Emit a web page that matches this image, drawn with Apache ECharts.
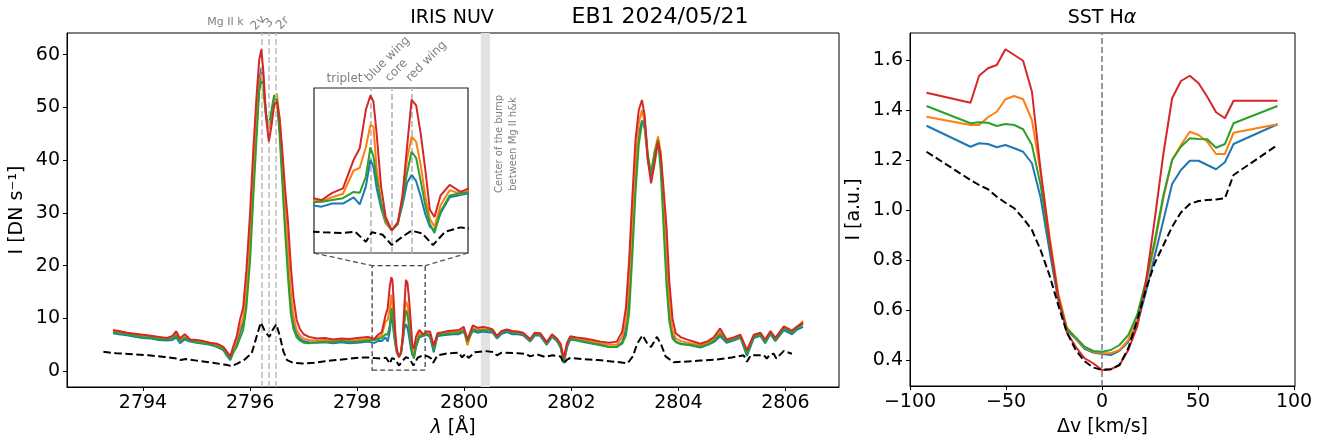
<!DOCTYPE html>
<html>
<head>
<meta charset="utf-8">
<script src="https://cdn.jsdelivr.net/npm/echarts@6/dist/echarts.min.js"></script>
<style>
html, body { margin: 0; padding: 0; background: #fff; }
#chart { width: 1332px; height: 445px; }
</style>
</head>
<body>
<div id="chart"></div>
<script>
// IRIS NUV, Mg II h&k window
const irisWave = [
  2793.44, 2793.55, 2793.70, 2793.85, 2794.00, 2794.15, 2794.30, 2794.45, 2794.55, 2794.62,
  2794.69, 2794.78, 2794.88, 2795.00, 2795.13, 2795.25, 2795.38, 2795.50, 2795.56, 2795.63,
  2795.69, 2795.75, 2795.81, 2795.87, 2795.93, 2796.00, 2796.06, 2796.12, 2796.17, 2796.21,
  2796.25, 2796.30, 2796.35, 2796.40, 2796.45, 2796.50, 2796.55, 2796.60, 2796.65, 2796.71,
  2796.76, 2796.81, 2796.87, 2796.93, 2797.00, 2797.10, 2797.25, 2797.40, 2797.55, 2797.70,
  2797.85, 2798.00, 2798.10, 2798.20, 2798.32, 2798.39, 2798.46, 2798.53, 2798.57, 2798.61,
  2798.64, 2798.66, 2798.68, 2798.71, 2798.74, 2798.78, 2798.82, 2798.85, 2798.88, 2798.91,
  2798.94, 2798.97, 2799.00, 2799.03, 2799.06, 2799.10, 2799.16, 2799.23, 2799.30, 2799.36,
  2799.43, 2799.50, 2799.60, 2799.70, 2799.80, 2799.90, 2799.99, 2800.06, 2800.16, 2800.25,
  2800.35, 2800.45, 2800.53, 2800.61, 2800.70, 2800.80, 2800.90, 2801.00, 2801.10, 2801.23,
  2801.32, 2801.42, 2801.54, 2801.64, 2801.73, 2801.80, 2801.86, 2801.92, 2801.98, 2802.10,
  2802.25, 2802.40, 2802.55, 2802.70, 2802.85, 2802.95, 2803.02, 2803.08, 2803.14, 2803.20,
  2803.26, 2803.32, 2803.37, 2803.43, 2803.49, 2803.55, 2803.62, 2803.67, 2803.72, 2803.78,
  2803.83, 2803.89, 2803.95, 2804.05, 2804.22, 2804.41, 2804.55, 2804.66, 2804.78, 2804.90,
  2805.03, 2805.16, 2805.28, 2805.41, 2805.53, 2805.62, 2805.72, 2805.81, 2805.97, 2806.12,
  2806.22, 2806.33
];
const irisBlue = [
  7.2, 7.0, 6.8, 6.5, 6.3, 6.2, 5.9, 5.8, 5.9, 6.4,
  5.3, 6.0, 5.6, 5.4, 5.2, 5.0, 4.6, 4.0, 3.0, 2.1,
  3.7, 5.4, 7.3, 9.0, 14.0, 24.0, 36.0, 47.0, 55.0, 57.5,
  54.0, 48.5, 46.0, 48.0, 51.5, 51.5, 46.0, 38.0, 29.0, 20.0,
  13.0, 9.0, 7.0, 6.2, 5.7, 5.5, 5.4, 5.5, 5.3, 5.5,
  5.3, 5.4, 5.5, 5.6, 5.35, 5.7, 5.7, 6.4, 5.6, 7.6,
  10.6, 9.8, 7.5, 5.2, 3.5, 2.7, 3.6, 5.5, 8.0, 8.9,
  8.2, 6.5, 4.5, 3.1, 2.7, 4.6, 6.4, 6.65, 6.9, 6.5,
  3.6, 6.6, 6.8, 6.9, 7.0, 7.0, 7.5, 5.8, 7.6, 7.3,
  7.5, 7.4, 7.3, 6.2, 7.1, 7.4, 7.0, 7.0, 6.8, 5.6,
  6.8, 6.7, 5.0, 6.5, 5.7, 4.5, 1.5, 4.5, 6.0, 5.8,
  5.5, 5.2, 4.9, 4.6, 4.6, 5.5, 8.0, 14.0, 25.0, 37.0,
  45.0, 47.5, 46.0, 40.0, 37.0, 40.5, 43.5, 40.0, 31.0, 19.0,
  11.0, 6.8, 5.6, 5.2, 4.9, 4.5, 5.0, 5.5, 6.6, 5.4,
  5.8, 6.3, 2.9, 6.3, 6.7, 5.3, 7.0, 5.7, 7.8, 7.0,
  7.9, 8.4
];
const irisOrange = [
  7.6, 7.4, 7.2, 6.9, 6.8, 6.6, 6.3, 6.2, 6.4, 7.1,
  5.8, 6.5, 5.9, 5.7, 5.5, 5.3, 4.9, 4.3, 3.4, 2.5,
  4.2, 6.0, 8.1, 10.0, 15.5, 25.0, 37.0, 47.0, 54.0, 56.5,
  53.0, 48.0, 46.0, 48.5, 52.0, 52.6, 48.0, 41.0, 32.0, 23.0,
  15.0, 10.5, 7.8, 6.8, 6.2, 5.9, 5.8, 5.9, 5.7, 5.9,
  5.8, 5.9, 6.0, 6.1, 6.0, 6.4, 6.8, 9.4, 9.7, 12.0,
  14.5, 14.3, 9.8, 5.8, 3.6, 2.7, 3.4, 6.5, 10.6, 13.2,
  12.6, 10.0, 6.5, 4.0, 3.1, 5.5, 7.2, 6.8, 7.2, 7.0,
  4.4, 7.0, 7.3, 7.4, 7.5, 7.6, 8.0, 4.9, 8.2, 7.8,
  8.0, 7.9, 7.7, 6.5, 7.5, 7.7, 7.4, 7.3, 7.1, 5.9,
  7.1, 7.0, 5.3, 6.8, 6.0, 4.8, 2.0, 5.0, 6.4, 6.1,
  5.9, 5.6, 5.3, 5.0, 5.0, 6.5, 9.5, 17.0, 28.0, 40.0,
  47.0, 49.5, 47.0, 40.0, 37.5, 41.5, 44.5, 41.5, 33.0, 22.0,
  13.0, 7.8, 6.2, 5.7, 5.3, 4.9, 5.4, 6.0, 7.5, 5.8,
  6.2, 6.7, 3.7, 6.8, 7.2, 5.6, 7.5, 6.1, 8.3, 7.6,
  8.4, 9.5
];
const irisGreen = [
  7.4, 7.2, 7.0, 6.7, 6.5, 6.4, 6.1, 6.0, 6.2, 6.8,
  5.6, 6.3, 5.7, 5.5, 5.3, 5.1, 4.7, 4.1, 3.2, 2.3,
  3.6, 4.6, 6.2, 7.8, 12.0, 21.0, 33.0, 44.0, 53.0, 55.5,
  53.5, 48.5, 46.5, 49.5, 52.3, 51.5, 45.0, 36.0, 27.0, 17.5,
  11.0, 8.0, 6.4, 5.8, 5.4, 5.3, 5.5, 5.6, 5.5, 5.7,
  5.6, 5.6, 5.7, 5.8, 5.9, 6.1, 6.3, 7.0, 6.9, 8.7,
  12.0, 11.0, 8.5, 5.8, 3.85, 2.7, 3.4, 6.0, 9.1, 11.5,
  10.8, 8.2, 5.5, 3.4, 2.4, 4.8, 6.6, 6.85, 7.0, 6.8,
  4.0, 6.8, 7.0, 7.1, 7.2, 7.3, 7.7, 5.6, 7.9, 7.6,
  7.8, 7.7, 7.6, 6.4, 7.4, 7.7, 7.3, 7.2, 7.0, 5.8,
  7.0, 6.9, 5.2, 6.7, 5.9, 4.6, 1.8, 4.8, 6.2, 5.9,
  5.6, 5.3, 5.0, 4.6, 4.6, 5.2, 6.8, 11.0, 22.0, 34.0,
  43.0, 47.0, 47.5, 41.0, 37.5, 41.0, 43.8, 38.0, 28.0, 16.0,
  9.5, 6.2, 5.5, 5.1, 5.0, 4.6, 5.1, 5.7, 7.0, 5.6,
  6.0, 6.5, 3.3, 6.5, 7.0, 5.5, 7.3, 5.9, 8.1, 7.3,
  8.2, 8.9
];
const irisRed = [
  7.8, 7.6, 7.3, 7.1, 6.9, 6.7, 6.5, 6.3, 6.7, 7.6,
  6.2, 7.0, 6.0, 5.9, 5.7, 5.4, 5.2, 4.6, 3.8, 2.8,
  4.8, 6.6, 9.7, 12.0, 19.0, 30.0, 42.0, 52.0, 59.0, 61.0,
  56.5, 48.0, 43.5, 46.5, 50.5, 51.1, 48.0, 42.0, 35.0, 28.0,
  20.0, 14.0, 9.7, 8.0, 7.0, 6.5, 6.2, 6.3, 6.0, 6.2,
  6.1, 6.3, 6.4, 6.5, 6.1, 6.9, 7.4, 10.6, 11.9, 16.2,
  17.8, 17.1, 13.7, 7.6, 4.2, 2.7, 3.6, 6.5, 12.0, 17.3,
  16.7, 13.5, 9.5, 5.0, 4.2, 6.6, 7.8, 7.0, 7.5, 7.5,
  4.8, 7.2, 7.4, 7.6, 7.7, 7.8, 8.4, 6.0, 8.7, 8.2,
  8.4, 8.2, 7.9, 6.7, 7.6, 7.9, 7.6, 7.5, 7.3, 6.1,
  7.3, 7.2, 5.5, 7.0, 6.2, 5.2, 2.5, 5.4, 6.6, 6.4,
  6.2, 5.9, 5.6, 5.4, 5.6, 7.5, 12.0, 21.0, 33.0, 44.0,
  49.5, 51.4, 48.5, 40.0, 35.6, 39.0, 43.5, 41.0, 35.0, 27.0,
  17.0, 10.0, 7.2, 6.4, 5.8, 5.2, 5.7, 6.4, 8.1, 6.0,
  6.4, 6.9, 4.0, 6.9, 7.3, 6.0, 7.6, 6.3, 8.5, 7.7,
  8.5, 9.2
];
// IRIS reference (quiet) profile, dashed black
const irisRefWave = [
  2793.26, 2793.50, 2793.80, 2794.10, 2794.40, 2794.63, 2794.70, 2794.80, 2795.00, 2795.30,
  2795.55, 2795.66, 2795.75, 2795.90, 2796.03, 2796.12, 2796.20, 2796.28, 2796.36, 2796.42,
  2796.49, 2796.56, 2796.62, 2796.69, 2796.80, 2796.99, 2797.20, 2797.40, 2797.60, 2797.80,
  2798.06, 2798.20, 2798.33, 2798.45, 2798.54, 2798.61, 2798.65, 2798.72, 2798.78, 2798.85,
  2798.91, 2798.98, 2799.05, 2799.13, 2799.23, 2799.32, 2799.38, 2799.42, 2799.50, 2799.70,
  2799.90, 2799.96, 2800.02, 2800.08, 2800.20, 2800.40, 2800.55, 2800.61, 2800.70, 2801.00,
  2801.15, 2801.23, 2801.35, 2801.51, 2801.65, 2801.80, 2801.86, 2801.92, 2801.98, 2802.20,
  2802.50, 2802.80, 2803.05, 2803.15, 2803.23, 2803.33, 2803.42, 2803.49, 2803.60, 2803.68,
  2803.76, 2803.91, 2804.10, 2804.40, 2804.72, 2805.00, 2805.22, 2805.28, 2805.35, 2805.60,
  2805.65, 2805.72, 2805.78, 2805.83, 2805.97, 2806.12
];
const irisRef = [
  3.66, 3.4, 3.2, 3.0, 2.7, 2.4, 2.1, 2.3, 2.0, 1.6,
  1.2, 0.95, 1.4, 2.2, 3.4, 6.5, 9.2, 7.5, 6.5, 7.8,
  8.9, 6.5, 3.8, 2.1, 1.6, 1.45, 1.6, 1.9, 2.1, 2.3,
  2.6, 2.6, 2.48, 2.4, 2.54, 1.42, 2.48, 2.2, 1.05, 2.0,
  2.65, 2.36, 1.05, 2.54, 3.03, 2.8, 2.4, 1.6, 3.0, 3.4,
  3.5, 2.6, 3.3, 2.5, 3.6, 3.8, 3.6, 3.0, 3.5, 3.4,
  3.3, 2.8, 3.2, 2.7, 3.0, 2.8, 1.45, 2.2, 2.5, 2.3,
  2.1, 1.8, 1.5, 2.8, 5.2, 6.8, 5.2, 4.6, 6.5, 5.0,
  2.8, 1.7, 1.8, 2.0, 2.2, 2.6, 3.0, 1.8, 3.0, 3.0,
  2.4, 3.2, 3.3, 2.4, 3.85, 3.3
];

const kLines = [2796.21, 2796.35, 2796.48];
const kLabels = ['2v', '3', '2r'];
const insetLines = [2798.644, 2798.779, 2798.914];
const insetLabels = ['blue wing', 'core', 'red wing'];
const bumpBand = [2800.31, 2800.48];
const zoomWave = [2798.28, 2799.27];
const zoomInt = [0.2, 20];

const irisXTicks = [2794, 2796, 2798, 2800, 2802, 2804, 2806];
const irisYTicks = [0, 10, 20, 30, 40, 50, 60];

// SST CRISP H-alpha, velocity in km/s
const sstVel = [
  -91.4, -68.5, -64.0, -59.4, -54.8, -50.3, -45.7, -41.1, -36.5, -32.0, -27.4,
  -22.8, -18.3, -13.7, -9.1, -4.6, 0, 4.6, 9.1, 13.7, 18.3, 22.8,
  27.4, 32.0, 36.5, 41.1, 45.7, 50.3, 54.8, 59.4, 64.0, 68.5, 91.4
];
const sstBlue = [
  1.337, 1.253, 1.267, 1.264, 1.251, 1.260, 1.247, 1.233, 1.187, 1.05, 0.84,
  0.64, 0.52, 0.485, 0.445, 0.43, 0.424, 0.42, 0.437, 0.473, 0.54, 0.67,
  0.815, 0.96, 1.104, 1.16, 1.197, 1.197, 1.18, 1.163, 1.191, 1.264, 1.343
];
const sstOrange = [
  1.373, 1.34, 1.34, 1.371, 1.393, 1.443, 1.456, 1.443, 1.36, 1.15, 0.90,
  0.667, 0.53, 0.487, 0.45, 0.433, 0.427, 0.427, 0.44, 0.48, 0.56, 0.70,
  0.86, 1.05, 1.20, 1.26, 1.313, 1.30, 1.273, 1.224, 1.224, 1.309, 1.343
];
const sstGreen = [
  1.416, 1.347, 1.351, 1.349, 1.336, 1.344, 1.34, 1.323, 1.26, 1.10, 0.87,
  0.653, 0.525, 0.49, 0.453, 0.436, 0.433, 0.44, 0.46, 0.50, 0.58, 0.715,
  0.875, 1.06, 1.20, 1.253, 1.287, 1.284, 1.283, 1.249, 1.264, 1.347, 1.416
];
const sstRed = [
  1.469, 1.429, 1.537, 1.567, 1.58, 1.643, 1.62, 1.597, 1.473, 1.16, 0.88,
  0.65, 0.51, 0.453, 0.407, 0.387, 0.36, 0.363, 0.38, 0.44, 0.533, 0.707,
  0.96, 1.227, 1.447, 1.516, 1.537, 1.507, 1.453, 1.391, 1.367, 1.437, 1.437
];
const sstRef = [
  1.233, 1.12, 1.10, 1.083, 1.053, 1.029, 1.007, 0.967, 0.92, 0.84, 0.74,
  0.62, 0.51, 0.44, 0.395, 0.37, 0.36, 0.363, 0.38, 0.447, 0.56, 0.68,
  0.787, 0.86, 0.933, 0.99, 1.024, 1.036, 1.04, 1.042, 1.047, 1.14, 1.26
];
const sstXTicks = [-100, -50, 0, 50, 100];
const sstYTicks = [0.4, 0.6, 0.8, 1.0, 1.2, 1.4, 1.6];

const colors = ['#1f77b4', '#ff7f0e', '#2ca02c', '#d62728'];
const FONT = 'DejaVu Sans';
const GREY = '#808080';

function pairs(xs, ys) {
    return xs.map((x, i) => [x, ys[i]]);
}

function axisX(grid, min, max, ticks, name, fmt) {
    return {
        type: 'value', gridIndex: grid, min: min, max: max,
        name: name, nameLocation: 'middle', nameGap: 32,
        nameTextStyle: {fontSize: 19, fontFamily: FONT, color: '#000',
            rich: {i: {fontSize: 19, fontFamily: FONT, fontStyle: 'italic'}}},
        axisLine: {show: true, onZero: false, lineStyle: {color: '#000', width: 1}},
        axisTick: {show: true, length: 4, customValues: ticks, lineStyle: {color: '#000'}},
        axisLabel: {customValues: ticks, fontSize: 19, fontFamily: FONT, color: '#000', margin: 7,
            formatter: fmt},
        splitLine: {show: false}
    };
}

function axisY(grid, min, max, ticks, name, gap, fmt) {
    return {
        type: 'value', gridIndex: grid, min: min, max: max,
        name: name, nameLocation: 'middle', nameRotate: 90, nameGap: gap,
        nameMoveOverlap: false,
        nameTextStyle: {fontSize: 19, fontFamily: FONT, color: '#000'},
        axisLine: {show: true, onZero: false, lineStyle: {color: '#000', width: 1}},
        axisTick: {show: true, length: 4, customValues: ticks, lineStyle: {color: '#000'}},
        axisLabel: {customValues: ticks, fontSize: 19, fontFamily: FONT, color: '#000', margin: 7,
            formatter: fmt},
        splitLine: {show: false}
    };
}

function hidden(grid, min, max) {
    return {
        type: 'value', gridIndex: grid, min: min, max: max,
        axisLine: {show: false}, axisTick: {show: false},
        axisLabel: {show: false}, splitLine: {show: false}
    };
}

function line(idx, data, color, dashed, z) {
    return {
        type: 'line', xAxisIndex: idx, yAxisIndex: idx, data: data,
        showSymbol: false, symbol: 'none', z: z, silent: true, animation: false,
        lineStyle: {color: color, width: 2, type: dashed ? [7.5, 3.5] : 'solid'}
    };
}

const irisSets = [irisBlue, irisOrange, irisGreen, irisRed];
const sstSets = [sstBlue, sstOrange, sstGreen, sstRed];

const series = [];
// main IRIS panel
irisSets.forEach((ys, i) => series.push(line(0, pairs(irisWave, ys), colors[i], false, 2 + i)));
series.push(line(0, pairs(irisRefWave, irisRef), '#000', true, 6));
// band + zoom box + k lines
series[0].markArea = {
    silent: true, z: 1,
    itemStyle: {color: '#e2e2e2'},
    data: [[{xAxis: bumpBand[0]}, {xAxis: bumpBand[1]}]]
};
series[4].markArea = {
    silent: true, z: 1,
    itemStyle: {color: 'rgba(0,0,0,0)', borderColor: '#444', borderWidth: 1.3, borderType: [5, 3]},
    data: [[{xAxis: zoomWave[0], yAxis: zoomInt[0]}, {xAxis: zoomWave[1], yAxis: zoomInt[1]}]]
};
series[4].markLine = {
    silent: true, symbol: ['none', 'none'], animation: false,
    label: {show: false},
    lineStyle: {color: '#c0c0c0', width: 1.6, type: [6, 3]},
    data: kLines.map(v => ({xAxis: v}))
};
// SST panel
sstSets.forEach((ys, i) => series.push(line(1, pairs(sstVel, ys), colors[i], false, 2 + i)));
series.push(line(1, pairs(sstVel, sstRef), '#000', true, 6));
series[9].markLine = {
    silent: true, symbol: ['none', 'none'], animation: false,
    label: {show: false},
    lineStyle: {color: GREY, width: 1.6, type: [6, 3]},
    data: [{xAxis: 0}]
};
// inset (drawn above its white background)
irisSets.forEach((ys, i) => series.push(line(2, pairs(irisWave, ys), colors[i], false, 12 + i)));
series.push(line(2, pairs(irisRefWave, irisRef), '#000', true, 16));
series[14].markLine = {
    silent: true, symbol: ['none', 'none'], animation: false, z: 11,
    label: {show: false},
    lineStyle: {color: '#b4b4b4', width: 1.6, type: [6, 3]},
    data: insetLines.map(v => ({xAxis: v}))
};

const minus = v => (v < 0 ? '\u2212' + Math.abs(v) : '' + v);

const option = {
    backgroundColor: '#fff',
    animation: false,
    grid: [
        {left: 67, top: 33, width: 772, height: 354, show: true, borderColor: '#000', borderWidth: 1,
            backgroundColor: 'transparent'},
        {left: 910, top: 33, width: 385, height: 353, show: true, borderColor: '#000', borderWidth: 1,
            backgroundColor: 'transparent'},
        {left: 314, top: 88, width: 154, height: 165, show: true, borderColor: '#222', borderWidth: 1.2,
            backgroundColor: '#fff', z: 8}
    ],
    xAxis: [
        axisX(0, 2792.58, 2807.0, irisXTicks, '{i|λ} [Å]', v => '' + v),
        axisX(1, -100, 100.5, sstXTicks, 'Δv [km/s]', minus),
        hidden(2, 2798.27, 2799.28)
    ],
    yAxis: [
        axisY(0, -3.0, 64.1, irisYTicks, 'I [DN s\u207B\u00B9]', 40),
        axisY(1, 0.296, 1.708, sstYTicks, 'I [a.u.]', 46, v => v.toFixed(1)),
        hidden(2, 0.16, 18.64)
    ],
    series: series
};

const chart = echarts.init(document.getElementById('chart'), null, {renderer: 'canvas'});
chart.setOption(option);

// annotations placed from axis coordinates
const px = (g, x, y) => chart.convertToPixel({gridIndex: g}, [x, y]);
const graphics = [];
function text(x, y, str, size, color, opts) {
    graphics.push(Object.assign({
        type: 'text', x: x, y: y, z: 50, silent: true,
        style: Object.assign({text: str, fontSize: size, fontFamily: FONT, fill: color,
            align: 'center', verticalAlign: 'middle'}, (opts && opts.style) || {})
    }, (opts && opts.el) || {}));
}

text(452, 18, 'IRIS NUV', 19, '#000');
text(660, 17, 'EB1 2024/05/21', 22, '#000');
graphics.push({
    type: 'text', x: 1102, y: 18, z: 50, silent: true,
    style: {
        text: 'SST H{i|α}', fontSize: 19, fontFamily: FONT, fill: '#000', align: 'center', verticalAlign: 'middle',
        rich: {i: {fontSize: 19, fontFamily: FONT, fontStyle: 'italic', fill: '#000'}}
    }
});

// Mg II k labels
const kPx = kLines.map(v => px(0, v, 0)[0]);
text(kPx[0] - 36, 22, 'Mg II k', 11, GREY);
const kOffset = [-3, 0, 7];
kLabels.forEach((s, i) => {
    text(kPx[i] + kOffset[i], 23, s, 12, GREY, {el: {rotation: Math.PI / 4}});
});

// inset labels
const top2 = px(2, 2798.27, 18.64)[1];
text(px(2, 2798.47, 0)[0], top2 - 9, 'triplet', 12, GREY);
insetLabels.forEach((s, i) => {
    const lx = px(2, insetLines[i], 0)[0];
    text(lx, top2 - 4, s, 12, GREY, {
        el: {rotation: Math.PI / 4},
        style: {align: 'left', verticalAlign: 'bottom'}
    });
});

// bump band note
const bandX = px(0, bumpBand[1], 0)[0];
text(bandX + 16, 144, 'Center of the bump\nbetween Mg II h&k', 10, GREY, {
    el: {rotation: Math.PI / 2},
    style: {lineHeight: 14}
});

// connectors from inset to zoom box
const inBL = px(2, 2798.27, 0.16);
const inBR = px(2, 2799.28, 0.16);
const boxTL = px(0, zoomWave[0], zoomInt[1]);
const boxTR = px(0, zoomWave[1], zoomInt[1]);
[[inBL, boxTL], [inBR, boxTR]].forEach(p => {
    graphics.push({
        type: 'line', z: 40, silent: true,
        shape: {x1: p[0][0], y1: p[0][1], x2: p[1][0], y2: p[1][1]},
        style: {stroke: '#555', lineWidth: 1.3, lineDash: [5, 3]}
    });
});

chart.setOption({graphic: graphics});
</script>
</body>
</html>
